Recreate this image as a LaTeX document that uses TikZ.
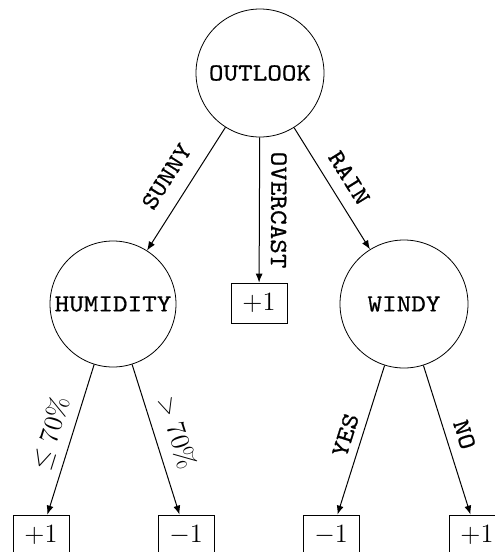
\RequirePackage{fix-cm}
\documentclass[tikz,border=0pt]{standalone}
\usepackage{fontspec}
\newfontfamily\labfont{lmmono10-regular.otf}[FakeStretch=1.13,FakeBold=0.6]
\usetikzlibrary{arrows.meta}
\begin{document}
\begin{tikzpicture}[x=0.5pt,y=-0.5pt,
  every node/.style={font=\fontsize{13.2}{16}\selectfont},
  dec/.style={draw,circle,inner sep=0pt,font=\fontsize{12.3}{14}\labfont},
  leaf/.style={draw,rectangle,inner sep=0pt,minimum width=28pt,minimum height=20pt},
  conn/.style={line width=0.5pt,-{Latex[length=4.5pt,width=3.5pt]}},
  lab/.style={midway,sloped,inner sep=0pt,font=\fontsize{12.3}{14}\labfont},
  mlab/.style={midway,sloped,inner sep=0pt}]
\useasboundingbox (0,0) rectangle (494,552);
\node[dec,minimum size=64pt] (outlook) at (260,73) {OUTLOOK};
\node[dec,minimum size=63pt] (humidity) at (113,304) {HUMIDITY};
\node[dec,minimum size=64pt] (windy) at (404,304) {WINDY};
\node[leaf] (over) at (259,303) {$+1$};
\node[leaf] (l1) at (41,535) {$+1$};
\node[leaf] (l2) at (186,535) {$-1$};
\node[leaf] (l3) at (331,535) {$-1$};
\node[leaf] (l4) at (477,535) {$+1$};
\draw[conn] (outlook) -- node[lab,above=7.5pt] {SUNNY} (humidity);
\draw[conn] (outlook) -- node[lab,allow upside down,above=5.5pt] {OVERCAST} (over);
\draw[conn] (outlook) -- node[lab,above=6pt] {RAIN} (windy);
\draw[conn] (humidity) -- node[mlab,above=4.3pt] {$\leq 70\%$} (l1);
\draw[conn] (humidity) -- node[mlab,above=6pt] {$> 70\%$} (l2);
\draw[conn] (windy) -- node[lab,above=4pt] {YES} (l3);
\draw[conn] (windy) -- node[lab,above=5pt] {NO} (l4);
\end{tikzpicture}
\end{document}
